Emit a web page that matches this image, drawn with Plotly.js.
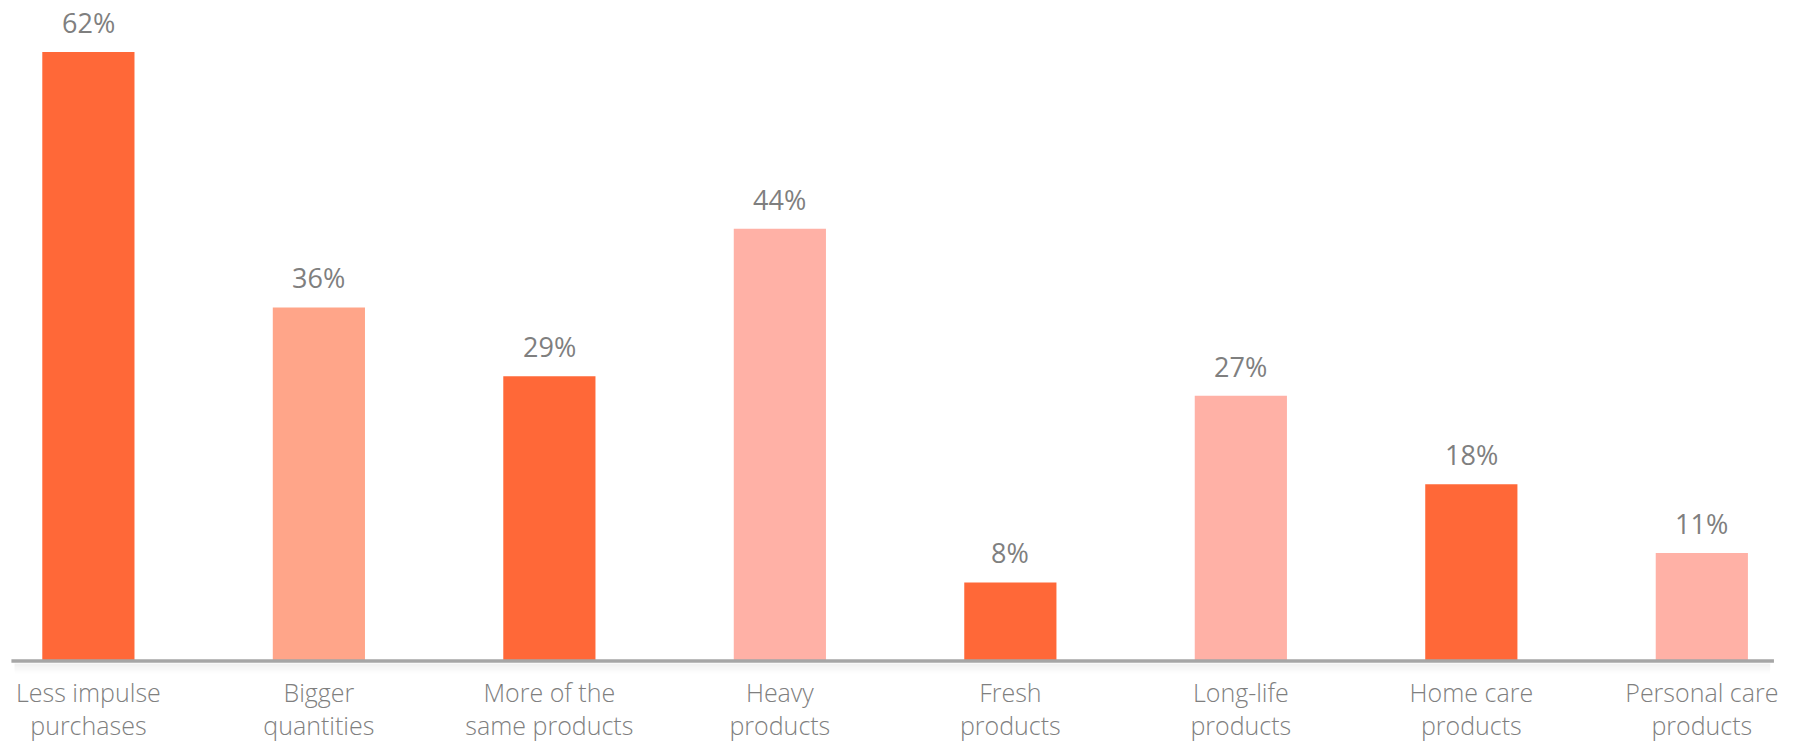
<!DOCTYPE html>
<html>
<head>
<meta charset="utf-8">
<script src="https://cdn.plot.ly/plotly-3.0.1.min.js"></script>
<style>html,body{margin:0;padding:0;background:#fff;}#chart{width:1812px;height:741px;}</style>
</head>
<body>
<div id="chart"></div>
<script>
const categories = ["Less impulse<br>purchases", "Bigger<br>quantities", "More of the<br>same products", "Heavy<br>products", "Fresh<br>products", "Long-life<br>products", "Home care<br>products", "Personal care<br>products"];
const values = [62, 36, 29, 44, 8, 27, 18, 11];
const valueLabels = ["62%", "36%", "29%", "44%", "8%", "27%", "18%", "11%"];
const barColors = ["#FF6838", "#FFA589", "#FF6838", "#FFB1A6", "#FF6838", "#FFB1A6", "#FF6838", "#FFB1A6"];

const idx = categories.map((c, i) => i);

const trace = {
  type: "bar",
  x: idx,
  y: values,
  marker: {color: barColors},
  hoverinfo: "skip",
  showlegend: false
};

const annotations = idx.map(i => ({
  x: i, y: values[i], xref: "x", yref: "y",
  text: valueLabels[i], showarrow: false,
  yanchor: "bottom", yshift: 9,
  font: {family: "Open Sans, Lato, sans-serif", size: 27, color: "#7F7F7F"}
}));

const shapes = [];
for (let k = 0; k < 10; k++) {
  shapes.push({type: "line", xref: "paper", yref: "paper", x0: 0.008, x1: 0.977,
    y0: -(3 + k) / 661, y1: -(3 + k) / 661,
    line: {color: "rgba(0,0,0," + (0.06 * (1 - k / 10)).toFixed(3) + ")", width: 1}});
}
shapes.push({type: "line", xref: "paper", yref: "paper", x0: 0.0063, x1: 0.979, y0: 0, y1: 0,
  line: {color: "#A6A6A6", width: 3.5}});

const layout = {
  width: 1812, height: 741,
  margin: {l: 0, r: 0, t: 0, b: 80, pad: 0},
  paper_bgcolor: "#ffffff", plot_bgcolor: "#ffffff",
  bargap: 0.6,
  xaxis: {
    range: [-0.3835, 7.478],
    tickmode: "array", tickvals: idx, ticktext: categories,
    showgrid: false, zeroline: false, showline: false, ticks: "",
    ticklabelstandoff: 15,
    tickfont: {family: "Open Sans, Lato, sans-serif", size: 25, color: "#7F7F7F", weight: 300},
    fixedrange: true
  },
  yaxis: {
    range: [0, 67.3], visible: false, showgrid: false, zeroline: false, fixedrange: true
  },
  annotations: annotations,
  shapes: shapes,
  font: {family: "Open Sans, Lato, sans-serif", color: "#7F7F7F"}
};

Plotly.newPlot("chart", [trace], layout, {displayModeBar: false, staticPlot: true});
</script>
</body>
</html>
